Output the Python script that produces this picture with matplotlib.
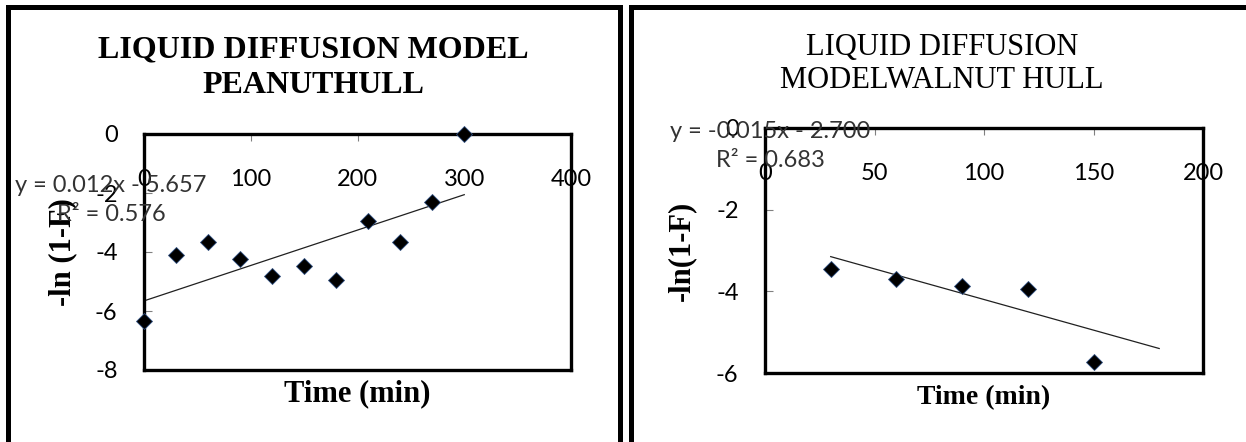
import matplotlib
matplotlib.use("Agg")
import matplotlib.pyplot as plt
from matplotlib.patches import Rectangle
import numpy as np

plt.rcParams["axes.unicode_minus"] = False

# Peanut hull: time (min) vs -ln(1-F)
peanut_time = [0, 30, 60, 90, 120, 150, 180, 210, 240, 270, 300]
peanut_lnf = [-6.33, -4.09, -3.65, -4.23, -4.80, -4.48, -4.94, -2.95, -3.67, -2.29, 0.0]
peanut_slope, peanut_icpt, peanut_r2 = 0.012, -5.657, 0.576
peanut_fit_range = [0, 300]

# Walnut hull: time (min) vs -ln(1-F)
walnut_time = [30, 60, 90, 120, 150]
walnut_lnf = [-3.46, -3.71, -3.86, -3.94, -5.73]
walnut_slope, walnut_icpt, walnut_r2 = -0.015, -2.700, 0.683
walnut_fit_range = [30, 180]

peanut_xticks = [0, 100, 200, 300, 400]
peanut_yticks = [0, -2, -4, -6, -8]
walnut_xticks = [0, 50, 100, 150, 200]
walnut_yticks = [0, -2, -4, -6]

W, H = 1246, 442
fig = plt.figure(figsize=(W / 100, H / 100), dpi=100)
fig.patch.set_facecolor("white")

SANS = ["Lato", "DejaVu Sans"]
SERIF = ["Liberation Serif", "DejaVu Serif"]


def fx(px):
    return px / W


def fy(py):
    return 1 - py / H


# panel frames
for x0, x1 in [(8, 620), (631, 1260)]:
    fig.patches.append(Rectangle((fx(x0), fy(460)), fx(x1 - x0), (460 - 6.5) / H,
                                 transform=fig.transFigure, fill=False,
                                 edgecolor="black", linewidth=3.6))


def panel(rect, xs, ys, slope, icpt, r2, fit_range, xlim, ylim, xticks, yticks,
          ylabel, ylabel_x, xlabel_size, eq_xy, eq_spacing):
    ax = fig.add_axes(rect)
    ax.set_xlim(*xlim)
    ax.set_ylim(*ylim)
    ax.set_xticks(xticks)
    ax.set_yticks(yticks)
    ax.xaxis.tick_top()
    ax.tick_params(axis="x", direction="in", length=5, color="#808080",
                   labelsize=17, pad=-40)
    ax.tick_params(axis="y", direction="in", length=6, color="#808080",
                   labelsize=17, pad=19)
    for lab in ax.get_xticklabels() + ax.get_yticklabels():
        lab.set_family(SANS)
    for s in ax.spines.values():
        s.set_linewidth(2.4)
        s.set_color("black")

    xf = np.array(fit_range, dtype=float)
    ax.plot(xf, slope * xf + icpt, color="#202020", linewidth=0.9, zorder=2)
    ax.plot(xs, ys, linestyle="none", marker="D", markersize=8.6,
            markerfacecolor="black", markeredgecolor="#2f4f80",
            markeredgewidth=0.6, clip_on=False, zorder=5)

    ax.set_xlabel("Time (min)", family=SERIF, fontweight="bold",
                  fontsize=xlabel_size, va="center")
    ax.xaxis.set_label_coords(0.5, -0.1)
    ax.set_ylabel(ylabel, family=SERIF, fontweight="bold", fontsize=22,
                  va="center")
    ax.yaxis.set_label_coords(ylabel_x, 0.5)

    sign = "-" if icpt < 0 else "+"
    eq = f"y = {slope:.3f}x {sign} {abs(icpt):.3f}\nR² = {r2:.3f}"
    fig.text(fx(eq_xy[0]), fy(eq_xy[1]), eq, family=SANS, fontsize=17,
             color="#333333", ha="center", va="center", multialignment="center",
             linespacing=eq_spacing, zorder=10)
    return ax


ax1 = panel([fx(144), fy(370), fx(571 - 144), (370 - 134) / H],
            peanut_time, peanut_lnf, peanut_slope, peanut_icpt, peanut_r2,
            peanut_fit_range, (0, 400), (-8, 0), peanut_xticks, peanut_yticks,
            "-ln (1-F)", -0.19, 22, (111, 200), 1.5)
ax2 = panel([fx(765), fy(373), fx(1203 - 765), (373 - 128) / H],
            walnut_time, walnut_lnf, walnut_slope, walnut_icpt, walnut_r2,
            walnut_fit_range, (0, 200), (-6, 0), walnut_xticks, walnut_yticks,
            "-ln(1-F)", -0.19, 20, (770, 146), 1.42)

# titles
fig.text(fx(313), fy(57), "LIQUID DIFFUSION MODEL", family=SERIF,
         fontweight="bold", fontsize=23, ha="center", va="baseline")
fig.text(fx(313), fy(93), "PEANUTHULL", family=SERIF,
         fontweight="bold", fontsize=23, ha="center", va="baseline")
fig.text(fx(942), fy(55), "LIQUID DIFFUSION", family=SERIF,
         fontsize=22, ha="center", va="baseline")
fig.text(fx(942), fy(88), "MODELWALNUT HULL", family=SERIF,
         fontsize=22, ha="center", va="baseline")

fig.savefig("out.png", dpi=100)
